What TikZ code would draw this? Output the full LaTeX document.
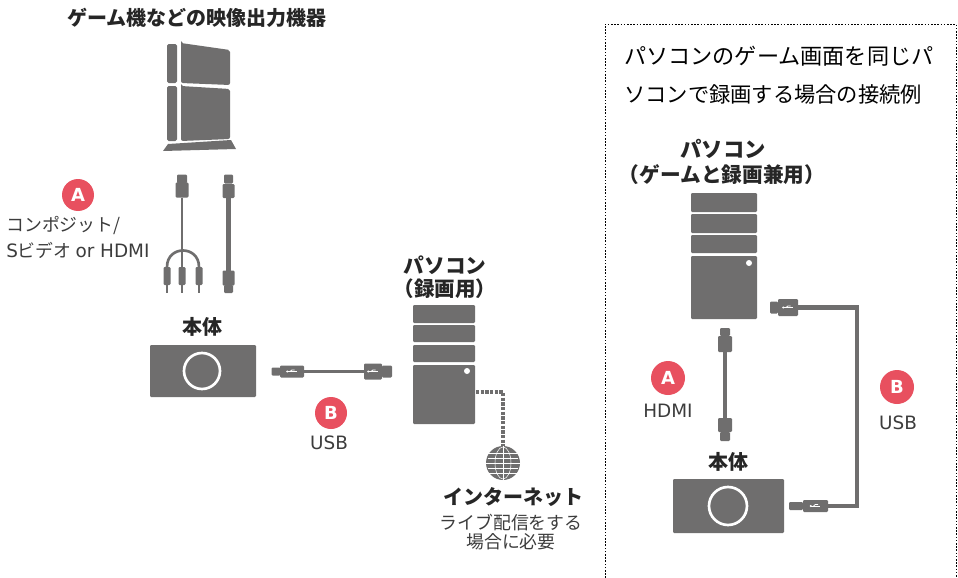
\documentclass[tikz,border=0pt]{standalone}
\usepackage{fontspec}
\setmainfont{Noto Sans CJK JP}
\newfontfamily\latinfont{DejaVu Sans}
\definecolor{devgray}{HTML}{6F6E6E}
\definecolor{badgered}{HTML}{E8505F}
\definecolor{labelgray}{HTML}{3C3C3C}
\tikzset{
	blk/.style 2 args={rectangle,fill=devgray,inner sep=0,outer sep=0,rounded corners=0.8pt,minimum width=#1*0.75pt,minimum height=#2*0.75pt},
	badge/.style={circle,fill=badgered,text=white,inner sep=0,minimum size=24pt,font=\latinfont\bfseries\fontsize{13.5}{13.5}\selectfont},
	head/.style={font=\bfseries\fontsize{15}{15}\selectfont,text=black!85,inner sep=0},
	note/.style={font=\fontsize{13.4}{13.4}\selectfont,text=labelgray,inner sep=0},
	latinnote/.style={font=\latinfont\fontsize{13.8}{13.8}\selectfont,text=labelgray,inner sep=0},
	cable/.style={draw=devgray,line width=3.6pt},
	wire/.style={draw=devgray,line width=2pt},
	ring/.style={circle,draw=white,line width=2pt,fill=none,inner sep=0,minimum size=27pt},
	usbmark/.style={draw=white,line width=0.6pt}
}
\begin{document}
\begin{tikzpicture}[x=0.75pt,y=-0.75pt]
	\useasboundingbox (0,0) rectangle (958,578);
	% game console
	\node[head] (gameT) at (197,18) {ゲーム機などの映像出力機器};
	\fill[devgray,rounded corners=1.2pt] (167,44) rectangle (177,83);
	\fill[devgray,rounded corners=1.2pt] (167,86) rectangle (177,141);
	\fill[devgray,rounded corners=1.5pt] (181,43) to (230,50) to (230,85) to (181,83) to cycle;
	\fill[devgray,rounded corners=1.5pt] (181,86) to (230,89) to (230,139) to (181,141) to cycle;
	\fill[devgray] (163,151) to (168,144) to (231,140) to (236,149) to cycle;
	% cables A
	\node[badge] (badgeA) at (78,195) {A};
	\node[note,anchor=west] (compT) at (6,226) {コンポジット/};
	\node[note,anchor=west] (sviT) at (6,250) {{\latinfont\fontsize{13.8}{13.8}\selectfont S}ビデオ {\latinfont\fontsize{13.8}{13.8}\selectfont or HDMI}};
	\node[blk={10}{9}] (compTip) at (182,179) {};
	\node[blk={13}{15}] (compPlug) at (182,190) {};
	\node[blk={7}{18}] (triL) at (167,276) {};
	\node[blk={7}{18}] (triM) at (182,276) {};
	\node[blk={7}{18}] (triR) at (199,276) {};
	\foreach \t in {triL,triM,triR} \fill[devgray] ([xshift=-1pt]\t.south) rectangle ++(2pt,-6pt);
	\draw[wire] (compPlug) -- (triM);
	\draw[wire] (triL.north) .. controls (167,245) and (199,245) .. (triR.north);
	\node[blk={9}{9}] (hdmiTip) at (228.5,179) {};
	\node[blk={12}{14}] (hdmiPlug) at (228.5,191) {};
	\node[blk={12}{15}] (hdmiBot) at (228.5,278) {};
	\node[blk={9}{8}] (hdmiBotTip) at (228.5,289) {};
	\draw[cable] (hdmiPlug) -- (hdmiBot);
	% left unit
	\node[head] (unitT) at (202,327) {本体};
	\node[blk={106}{52}] (unit) at (203,371) {};
	\node[ring] (unitRing) at (202,371) {};
	\node[blk={9}{8}] (usbTipL) at (276,371.5) {};
	\node[blk={24}{12}] (usbL) at (292,371.5) {};
	\node[blk={18}{16}] (usbR) at (373,371.5) {};
	\node[blk={10}{12}] (usbTipR) at (387,371.5) {};
	\draw[cable,line width=2.4pt] (usbL) -- (usbR);
	\node[badge] (badgeB) at (331,413) {B};
	\node[latinnote] (usbT) at (329,443) {USB};
	% recording pc
	\node[head,font=\bfseries\fontsize{15.5}{15.5}\selectfont] (pcT) at (445,265) {パソコン};
	\node[head,font=\bfseries\fontsize{15.4}{15.4}\selectfont] (pcSub) at (445,289) {（録画用）};
	\node[blk={62}{18}] (pcA) at (444,314) {};
	\node[blk={62}{17}] (pcB) at (444,333.5) {};
	\node[blk={62}{17}] (pcC) at (444,353.5) {};
	\node[blk={62}{59}] (pcD) at (444,394.5) {};
	\node[circle,fill=white,inner sep=0,minimum size=4.5pt] (pcDot) at (467,371) {};
	\coordinate (netStart) at (476,392);
	\node[circle,fill=devgray,inner sep=0,minimum size=25.5pt] (globe) at (503,463) {};
	\draw[draw=devgray,line width=2.8pt,dash pattern=on 2.6pt off 0.9pt] (netStart) -| (globe);
	\draw[white,line width=0.4pt] (globe) ellipse (8 and 16);
	\draw[white,line width=0.4pt] (globe.north) -- (globe.south) (globe.west) -- (globe.east);
	\foreach \ycoord in {-10,-5,5,10} \draw[white,line width=0.4pt] (503-15,463+\ycoord) -- (503+15,463+\ycoord);
	\node[head] (netT) at (513,497) {インターネット};
	\node[note] (netA) at (511,523) {ライブ配信をする};
	\node[note] (netB) at (511,542) {場合に必要};
	% box on the right
	\draw[line width=0.5pt,dash pattern=on 1.2pt off 1.2pt] (605,578) -- (605,24) -- (956,24) -- (956,578);
	\node[font=\fontsize{16.6}{16.6}\selectfont,inner sep=0,anchor=west] (boxA) at (624,56) {パソコンのゲーム画面を同じパ};
	\node[font=\fontsize{15.95}{15.95}\selectfont,inner sep=0,anchor=west] (boxB) at (624,94) {ソコンで録画する場合の接続例};
	\node[head,font=\bfseries\fontsize{16}{16}\selectfont] (rpcT) at (723,149) {パソコン};
	\node[head,font=\bfseries\fontsize{15.5}{15.5}\selectfont] (rpcSub) at (722,175) {（ゲームと録画兼用）};
	\node[blk={66}{19}] (rpcA) at (724,202.5) {};
	\node[blk={66}{19}] (rpcB) at (724,223.5) {};
	\node[blk={66}{18}] (rpcC) at (724,244) {};
	\node[blk={66}{63}] (rpcD) at (724,287.5) {};
	\node[circle,fill=white,inner sep=0,minimum size=4.5pt] (rpcDot) at (749,263) {};
	% hdmi
	\node[blk={10}{8}] (rHdmiTip) at (725,332) {};
	\node[blk={14}{16}] (rHdmiTop) at (725,344) {};
	\node[blk={14}{14}] (rHdmiBot) at (725,425) {};
	\node[blk={10}{9}] (rHdmiBotTip) at (725,436.5) {};
	\draw[cable] (rHdmiTop) -- (rHdmiBot);
	\node[badge,minimum size=25.5pt] (rBadgeA) at (668,378) {A};
	\node[latinnote] (rHdmiT) at (668,411) {HDMI};
	\node[head] (runitT) at (728,462) {本体};
	\node[blk={111}{54}] (runit) at (728.5,506) {};
	\node[ring,minimum size=28.5pt] (runitRing) at (728,506) {};
	% usb
	\node[blk={8}{12}] (rUsbTopTip) at (774,307.5) {};
	\node[blk={20}{17}] (rUsbTop) at (788,307.5) {};
	\node[blk={14}{8}] (rUsbBotTip) at (796,506) {};
	\node[blk={25}{12}] (rUsbBot) at (815.5,506) {};
	\coordinate (rBend) at (857,400);
	\draw[cable] (rUsbTop.center) -| (rBend) |- (rUsbBot.center);
	\node[badge,minimum size=25.5pt] (rBadgeB) at (897,387) {B};
	\node[latinnote] (rUsbT) at (898,423) {USB};
	% usb marks
	\foreach \plug in {usbL,usbR,rUsbTop,rUsbBot} {
		\draw[usbmark] ([xshift=-3.6pt]\plug.center) -- ([xshift=3.6pt]\plug.center);
		\draw[usbmark] ([xshift=-1.5pt]\plug.center) -- ([xshift=0pt,yshift=1.2pt]\plug.center) -- ([xshift=2pt,yshift=1.2pt]\plug.center);
		\fill[white] ([xshift=-3.6pt]\plug.center) circle (0.8pt);
	}
\end{tikzpicture}
\end{document}
